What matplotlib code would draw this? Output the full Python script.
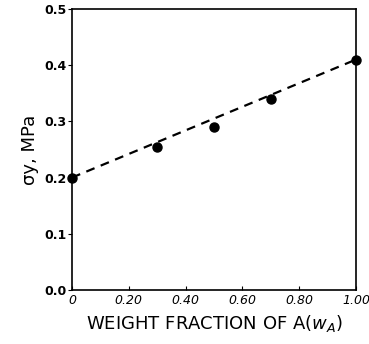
import matplotlib.pyplot as plt

# data
w_a = [0.0, 0.3, 0.5, 0.7, 1.0]
sigma_y = [0.20, 0.255, 0.29, 0.34, 0.41]
fit_x = [0.0, 1.0]
fit_y = [0.20, 0.41]

x_ticks = [0, 0.2, 0.4, 0.6, 0.8, 1.0]
x_labels = ["0", "0.20", "0.40", "0.60", "0.80", "1.00"]
y_ticks = [0.0, 0.1, 0.2, 0.3, 0.4, 0.5]
y_labels = ["0.0", "0.1", "0.2", "0.3", "0.4", "0.5"]

fig = plt.figure(figsize=(3.69, 3.44), dpi=100)
ax = fig.add_axes([0.195, 0.157, 0.77, 0.817])

ax.plot(fit_x, fit_y, '--', color='black', lw=1.6, dashes=(4, 3))
ax.plot(w_a, sigma_y, 'o', color='black', ms=6.5, clip_on=False)

ax.set_xlim(0, 1.0)
ax.set_ylim(0, 0.5)
ax.set_xticks(x_ticks)
ax.set_xticklabels(x_labels, fontsize=9, style='italic')
ax.set_yticks(y_ticks)
ax.set_yticklabels(y_labels, fontsize=9, fontweight='bold')
ax.tick_params(axis='x', direction='in', length=3, pad=3)
ax.tick_params(axis='y', direction='out', length=3, pad=1)
for s in ax.spines.values():
    s.set_linewidth(1.2)

ax.set_xlabel("WEIGHT FRACTION OF A($\\mathit{w}_A$)", fontsize=13,
              family=['Liberation Sans Narrow', 'DejaVu Sans'], labelpad=4)
ax.set_ylabel("σy, MPa", fontsize=13, labelpad=4)

plt.savefig("out.png", dpi=100)
